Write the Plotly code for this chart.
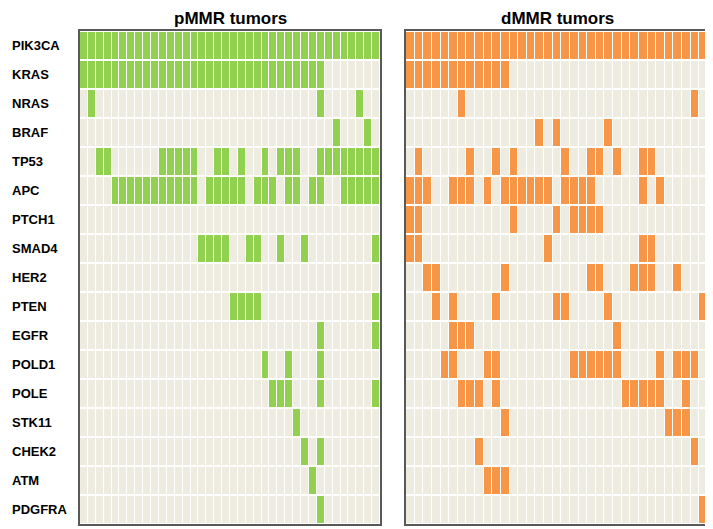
import plotly.graph_objects as go

genes = ["PIK3CA", "KRAS", "NRAS", "BRAF", "TP53", "APC", "PTCH1", "SMAD4", "HER2",
         "PTEN", "EGFR", "POLD1", "POLE", "STK11", "CHEK2", "ATM", "PDGFRA"]

# number of tumors in each group
n_pmmr = 38
n_dmmr = 35

# mutated tumor (column) indices per gene, pMMR group
pmmr_mut = [
    list(range(0, 38)),
    list(range(0, 31)),
    [1, 30, 35],
    [32, 36],
    [2, 3] + list(range(10, 15)) + [17, 18, 20, 23, 25, 26, 27] + list(range(30, 38)),
    list(range(4, 15)) + list(range(16, 21)) + [22, 23, 24, 26, 27, 29, 30] + list(range(33, 38)),
    [],
    [15, 16, 17, 18, 21, 22, 25, 28, 37],
    [],
    [19, 20, 21, 22, 37],
    [30, 37],
    [23, 26, 30],
    [24, 25, 26, 30, 37],
    [27],
    [28, 30],
    [29],
    [30],
]

# mutated tumor (column) indices per gene, dMMR group
dmmr_mut = [
    list(range(0, 35)),
    list(range(0, 12)),
    [6, 33],
    [15, 17, 23],
    [1, 7, 10, 12, 18, 21, 22, 24, 27, 28],
    [0, 1, 2, 5, 6, 7, 9] + list(range(11, 17)) + [18, 19, 20, 21, 27, 29],
    [0, 1, 12, 17, 19, 20, 21, 22],
    [0, 1, 16, 27, 28],
    [2, 3, 11, 21, 22, 26, 27, 28, 31],
    [3, 5, 10, 17, 18, 23, 34],
    [5, 6, 7, 24],
    [4, 5, 9, 10] + list(range(19, 25)) + [29, 31, 32, 33],
    [6, 7, 8, 10] + list(range(25, 30)) + [32],
    [11, 30, 31, 32],
    [8, 33],
    [9, 10, 11],
    [34],
]

bg = "#EEECE1"
green = "#92D050"
orange = "#F79646"


def to_matrix(mut, n):
    z = []
    for cols in mut:
        row = [0] * n
        for c in cols:
            row[c] = 1
        z.append(row)
    return z


# the page body has an 8px margin, so the figure is a bit smaller than the window
OFF = 8
W, H = 713 - OFF, 529 - OFF


def px(x):
    return (x - OFF) / W


def py(y):
    return 1 - (y - OFF) / H


fig = go.Figure()
fig.add_trace(go.Heatmap(
    z=to_matrix(pmmr_mut, n_pmmr), y=genes, x=list(range(n_pmmr)),
    colorscale=[[0, bg], [1, green]], zmin=0, zmax=1, showscale=False,
    xgap=1, ygap=2, xaxis="x", yaxis="y", hoverinfo="skip"))
fig.add_trace(go.Heatmap(
    z=to_matrix(dmmr_mut, n_dmmr), y=genes, x=list(range(n_dmmr)),
    colorscale=[[0, bg], [1, orange]], zmin=0, zmax=1, showscale=False,
    xgap=1, ygap=2, xaxis="x2", yaxis="y2", hoverinfo="skip"))

ydom = [py(524), py(31)]
ax = dict(showgrid=False, zeroline=False, showticklabels=False, ticks="",
          showline=True, linecolor="#595959", linewidth=1.5, mirror=True)

fig.update_layout(
    width=W, height=H,
    margin=dict(l=0, r=0, t=0, b=0),
    paper_bgcolor="white", plot_bgcolor="white",
    xaxis=dict(domain=[px(80), px(380)], range=[-0.5, n_pmmr - 0.5], **ax),
    yaxis=dict(domain=ydom, autorange="reversed", type="category", **ax),
    xaxis2=dict(domain=[px(406), px(708)], range=[-0.5, n_dmmr - 0.5], anchor="y2", **ax),
    yaxis2=dict(domain=ydom, autorange="reversed", type="category", anchor="x2", **ax),
    font=dict(family="Liberation Sans, Arial, sans-serif", color="black"),
)

# panel titles
for label, x0, x1 in [("pMMR tumors", 80, 380), ("dMMR tumors", 406, 708)]:
    fig.add_annotation(x=px((x0 + x1) / 2), y=py(8), xref="paper", yref="paper",
                       xanchor="center", yanchor="top", borderpad=0,
                       text="<b>" + label + "</b>", showarrow=False, font=dict(size=17))

# gene labels
for g in genes:
    fig.add_annotation(x=px(10), y=g, xref="paper", yref="y", xanchor="left",
                       text="<b>" + g + "</b>", showarrow=False, font=dict(size=13))

fig.write_html("out.html")
